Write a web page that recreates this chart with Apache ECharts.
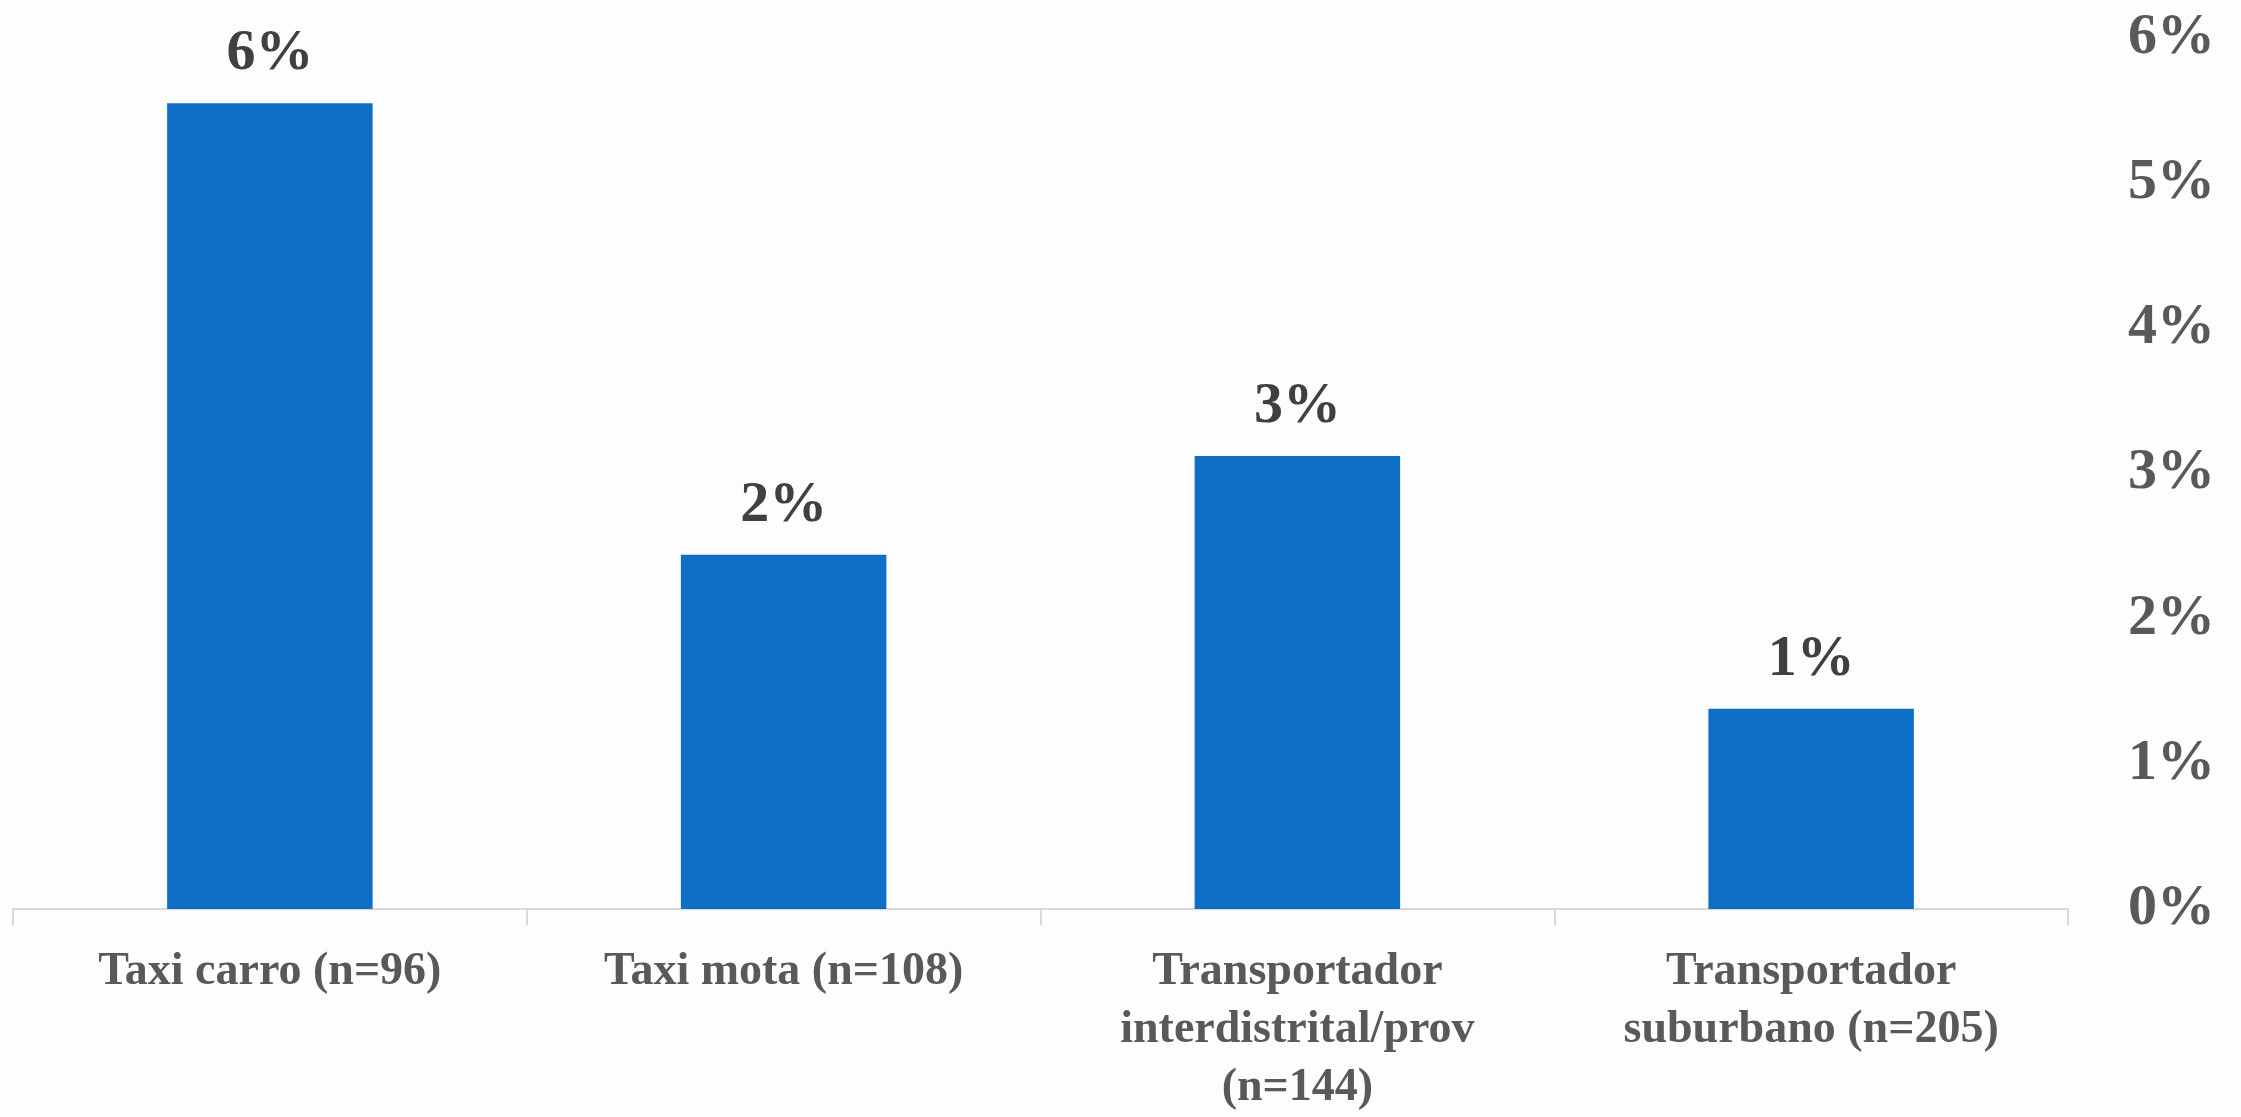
<!DOCTYPE html>
<html><head><meta charset="utf-8">
<style>html,body{margin:0;padding:0;background:#fdfdfd}#c{width:2241px;height:1117px}</style>
<script src="https://cdn.jsdelivr.net/npm/echarts@6/dist/echarts.min.js"></script>
</head><body><div id="c"></div>
<script>
const categories = ["Taxi carro (n=96)", "Taxi mota (n=108)", "Transportador\ninterdistrital/prov\n(n=144)", "Transportador\nsuburbano (n=205)"];
const values = [5.55, 2.44, 3.12, 1.38];
const FONT = '"Liberation Serif", serif';
const chart = echarts.init(document.getElementById('c'), null, {renderer:'canvas'});
chart.setOption({
  animation:false,
  backgroundColor:'#fdfdfd',
  grid:{left:13,right:173,top:38,bottom:206,containLabel:false},
  xAxis:{type:'category',data:categories,
    axisLine:{lineStyle:{color:'#d9d9d9',width:2}},
    axisTick:{show:true,alignWithLabel:false,length:16,lineStyle:{color:'#d9d9d9',width:2}},
    axisLabel:{interval:0,color:'#595959',fontFamily:FONT,fontWeight:'bold',fontSize:46,lineHeight:58,margin:34}},
  yAxis:{type:'value',position:'right',min:0,max:6,interval:1,
    splitLine:{show:false},axisLine:{show:false},axisTick:{show:false},
    axisLabel:{color:'#595959',fontFamily:FONT,fontWeight:'bold',fontSize:58,align:'left',margin:60,formatter:v=>v+'%'}},
  series:[{type:'bar',data:values,barWidth:'40%',
    itemStyle:{color:'#0f6fc6'},
    label:{show:true,position:'top',distance:20,color:'#404040',fontFamily:FONT,fontWeight:'bold',fontSize:58,formatter:p=>Math.round(p.value)+'%'}}]
});
</script></body></html>
